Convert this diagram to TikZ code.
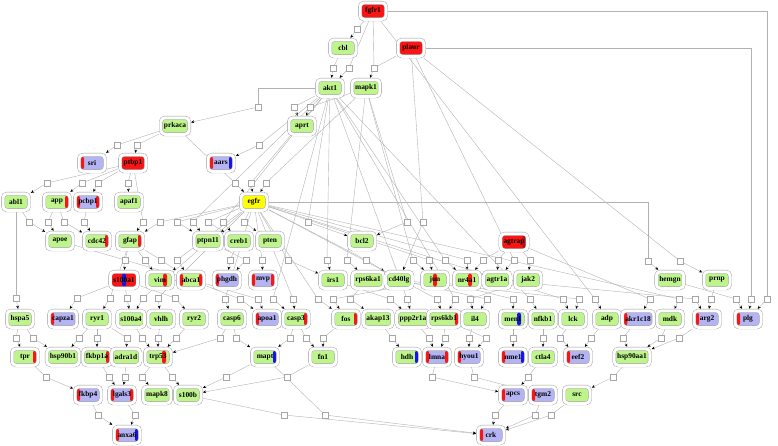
\documentclass[tikz,border=0pt]{standalone}
\usepackage{fontspec}
\setmainfont{Liberation Serif}
\usetikzlibrary{arrows.meta}
\definecolor{grn}{RGB}{190,244,140}
\definecolor{blu}{RGB}{180,180,245}
\definecolor{rd}{RGB}{250,20,20}
\definecolor{yel}{RGB}{255,255,0}
\definecolor{bl}{RGB}{20,20,235}
\pgfdeclarelayer{bg}
\pgfsetlayers{bg,main}

\begin{document}
\begin{tikzpicture}[x=1pt,y=-1pt,
  gene/.style={rounded corners=4pt, draw=gray!80, double=white, double distance=3pt,
    line width=0.4pt, minimum height=16.5pt, minimum width=26pt, inner xsep=3pt,
    inner ysep=2pt, outer sep=1.9pt, font=\bfseries\fontsize{7.4}{8}\selectfont},
  gn/.style={gene, fill=grn},
  bn/.style={gene, fill=blu},
  rn/.style={gene, fill=rd},
  yn/.style={gene, fill=yel},
  sideL/.style={path picture={\fill[#1] ([xshift=-1pt]path picture bounding box.south west) rectangle ([xshift=5pt]path picture bounding box.north west);}},
  sideR/.style={path picture={\fill[#1] ([xshift=-5pt]path picture bounding box.south east) rectangle ([xshift=1pt]path picture bounding box.north east);}},
  sides/.style 2 args={path picture={\fill[#1] ([xshift=-1pt]path picture bounding box.south west) rectangle ([xshift=5pt]path picture bounding box.north west);
    \fill[#2] ([xshift=-5pt]path picture bounding box.south east) rectangle ([xshift=1pt]path picture bounding box.north east);}},
  band/.style 2 args={path picture={\fill[#1] ([xshift=#2-2pt]path picture bounding box.south) rectangle ([xshift=#2+2pt]path picture bounding box.north);}},
  rxn/.style={draw=gray!70, fill=white, minimum size=6pt, inner sep=0pt, line width=0.4pt},
  link/.style={draw=gray!60, line width=0.4pt},
  hit/.style={link, -{Stealth[length=3.2pt,width=2.8pt,color=black]}}]
\useasboundingbox (0,0) rectangle (778,445);

% genes
\node[rn] (fgfr1) at (373,11) {fgfr1};
\node[gn] (cbl) at (343,48) {cbl};
\node[rn] (plaur) at (411,48) {plaur};
\node[gn] (akt1) at (330,88) {akt1};
\node[gn] (mapk1) at (366,88) {mapk1};
\node[gn] (prkaca) at (175,126) {prkaca};
\node[gn] (aprt) at (302,126) {aprt};
\node[bn,sideL=rd] (sri) at (92,163) {sri};
\node[rn] (ptbp1) at (133,163) {ptbp1};
\node[bn,sides={rd}{bl}] (aars) at (221,163) {aars};
\node[gn] (abl1) at (16,202) {abl1};
\node[gn,sideR=rd] (app) at (57,202) {app};
\node[bn,sides={rd}{rd}] (pcbp1) at (88,202) {pcbp1};
\node[gn] (apaf1) at (129,202) {apaf1};
\node[yn] (egfr) at (254,202) {egfr};

\node[gn] (apoe) at (60,241) {apoe};
\node[gn,sideR=rd] (cdc42) at (97,241) {cdc42};
\node[gn,sideR=rd] (gfap) at (130,241) {gfap};
\node[gn] (ptpn11) at (208,241) {ptpn11};
\node[gn] (creb1) at (239,241) {creb1};
\node[gn] (pten) at (270,241) {pten};
\node[gn] (bcl2) at (362,241) {bcl2};
\node[rn,sideR=rd!75!black] (agtrap) at (514,242) {agtrap};

\node[rn,band={bl}{0pt}] (s100a1) at (124,280) {s100a1};
\node[gn,band={rd}{5pt}] (vim) at (160,280) {vim};
\node[gn,sides={rd}{rd}] (abca1) at (191,280) {abca1};
\node[bn,sideL=rd] (phgdh) at (227,280) {phgdh};
\node[bn,sides={rd}{rd}] (mvp) at (263,280) {mvp};
\node[gn] (irs1) at (333,280) {irs1};
\node[gn] (rps6ka1) at (368,280) {rps6ka1};
\node[gn] (cd40lg) at (399,280) {cd40lg};
\node[gn,band={rd}{0pt}] (jun) at (435,280) {jun};
\node[gn,band={rd}{3pt}] (nr4a1) at (467,280) {nr4a1};
\node[gn] (agtr1a) at (497,280) {agtr1a};
\node[gn] (jak2) at (528,280) {jak2};
\node[gn] (hemgn) at (670,280) {hemgn};
\node[gn] (prnp) at (717,280) {prnp};

\node[gn] (hspa5) at (20,319) {hspa5};
\node[bn,sideL=rd] (capza1) at (63,319) {capza1};
\node[gn] (ryr1) at (97,319) {ryr1};
\node[gn] (s100a4) at (131,319) {s100a4};
\node[gn] (vhlh) at (161,319) {vhlh};
\node[gn] (ryr2) at (194,319) {ryr2};
\node[gn] (casp6) at (232,319) {casp6};
\node[bn,sideL=rd] (apoa1) at (267,319) {apoa1};
\node[gn,sideR=rd] (casp3) at (296,319) {casp3};
\node[gn,sideR=rd] (fos) at (346,319) {fos};
\node[gn] (akap13) at (378,319) {akap13};
\node[gn] (ppp2r1a) at (413,319) {ppp2r1a};
\node[gn,sideR=rd] (rps6kb1) at (444,319) {rps6kb1};
\node[gn] (il4) at (475,319) {il4};
\node[gn,band={bl}{6pt}] (men1) at (513,319) {men1};
\node[gn] (nfkb1) at (543,319) {nfkb1};
\node[gn] (lck) at (573,319) {lck};
\node[gn] (adp) at (607,319) {adp};
\node[bn,sideL=rd] (akr1c18) at (638,319) {akr1c18};
\node[gn] (mdk) at (670,319) {mdk};
\node[bn,sideL=rd] (arg2) at (707,319) {arg2};
\node[bn,sideL=rd] (plg) at (748,319) {plg};

\node[gn,sideR=rd] (tpr) at (25,357) {tpr};
\node[gn] (hsp90b1) at (63,357) {hsp90b1};
\node[gn,sideR=rd] (fkbp1a) at (97,357) {fkbp1a};
\node[gn] (adra1d) at (126,357) {adra1d};
\node[gn,band={rd}{6pt}] (trp53) at (158,357) {trp53};
\node[gn,sideR=bl] (mapt) at (265,357) {mapt};
\node[gn] (fn1) at (323,357) {fn1};
\node[gn,sideR=bl] (hdh) at (407,357) {hdh};
\node[bn,sides={rd}{rd}] (lmna) at (437,357) {lmna};
\node[bn,sideL=rd] (hyou1) at (469,357) {hyou1};
\node[bn,sides={rd}{bl}] (nme1) at (513,357) {nme1};
\node[gn] (ctla4) at (543,357) {ctla4};
\node[bn,sideL=rd] (eef2) at (578,357) {eef2};
\node[gn] (hsp90aa1) at (632,357) {hsp90aa1};

\node[bn,sideL=rd] (fkbp4) at (88,395) {fkbp4};
\node[bn,sides={rd}{rd}] (lgals3) at (122,395) {lgals3};
\node[gn] (mapk8) at (157,395) {mapk8};
\node[gn] (s100b) at (188,395) {s100b};
\node[bn,sideL=rd] (apcs) at (513,395) {apcs};
\node[bn,sideL=rd] (tgm2) at (543,395) {tgm2};
\node[gn] (src) at (577,395) {src};

\node[bn,sides={rd}{bl}] (anxa6) at (127,435) {anxa6};
\node[bn,sideL=rd] (crk) at (491,435) {crk};

% reaction squares
\foreach \n/\x/\y in {q1/357/29, q2/333/68, q3/349/68, q4/374/68, q5/258/107, q6/294/107, q7/310/107,
  q8/117/145, q9/137/145, q10/259/145, q11/47/183, q12/82/183, q13/98/183, q14/128/183,
  q15/235/183, q16/251/183, q17/266/183, q18/29/222, q19/48/222, q20/64/222, q21/84/222,
  q22/143/222, q23/160/222, q24/177/222, q25/193/222, q26/208/222, q27/223/222, q28/244/222,
  q29/308/222, q30/407/222, q31/423/222, q32/125/260, q33/145/260, q34/161/260, q35/177/260,
  q36/230/260, q37/246/260, q38/262/260, q39/288/260, q40/327/260, q41/347/260, q42/366/260,
  q43/413/260, q44/429/260, q45/445/260, q46/467/260, q47/483/260, q48/498/260, q49/514/260,
  q50/530/260, q51/648/261, q52/680/261, q53/16/298, q54/77/298, q55/110/298, q56/127/298,
  q57/143/298, q58/158/298, q59/175/298, q60/225/299, q61/240/299, q62/258/299, q63/273/299,
  q64/293/299, q65/318/299, q66/333/299, q67/350/299, q68/390/299, q69/407/299, q70/437/299,
  q71/455/299, q72/470/299, q73/487/299, q74/513/299, q75/530/299, q76/563/299, q77/579/299,
  q78/595/299, q79/650/299, q80/679/299, q81/695/299, q82/711/299, q83/736/299, q84/751/299,
  q85/767/299, q86/16/338, q87/33/338, q88/79/338, q89/97/338, q90/127/338, q91/142/338,
  q92/158/338, q93/176/338, q94/220/338, q95/236/338, q96/290/338, q97/306/338, q98/323/338,
  q99/392/338, q100/429/338, q101/445/338, q102/469/338, q103/486/338, q104/513/338,
  q105/543/338, q106/560/338, q107/591/338, q108/623/338, q109/661/338, q110/679/338,
  q111/46/377, q112/109/377, q113/125/377, q114/142/377, q115/172/377, q116/226/377,
  q117/287/377, q118/432/377, q119/474/377, q120/528/377, q121/613/377, q122/98/415,
  q123/135/415, q124/284/415, q125/325/415, q126/495/415, q127/535/415, q128/551/415}
  \node[rxn] (\n) at (\x,\y) {};

\begin{pgfonlayer}{bg}
% square -> product
\foreach \q/\t in {q1/cbl, q2/akt1, q3/akt1, q4/mapk1, q5/prkaca, q6/aprt, q7/aprt, q8/sri,
  q9/ptbp1, q10/aars, q11/abl1, q12/app, q13/pcbp1, q14/apaf1, q15/egfr, q16/egfr, q17/egfr,
  q18/apoe, q19/apoe, q20/cdc42, q21/cdc42, q22/gfap, q23/gfap, q24/ptpn11, q25/ptpn11,
  q26/creb1, q27/creb1, q28/pten, q29/bcl2, q30/bcl2, q31/cd40lg, q32/s100a1, q33/vim,
  q34/abca1, q35/abca1, q36/phgdh, q37/phgdh, q38/mvp, q39/irs1, q40/irs1, q41/rps6ka1,
  q42/cd40lg, q43/jun, q44/jun, q45/nr4a1, q46/nr4a1, q47/nr4a1, q48/agtr1a, q49/agtr1a,
  q50/jak2, q51/hemgn, q52/prnp, q53/hspa5, q54/capza1, q55/ryr1, q56/s100a4, q57/s100a4,
  q58/vhlh, q59/ryr2, q60/casp6, q61/apoa1, q62/apoa1, q63/casp3, q64/casp3, q65/fos,
  q66/fos, q67/akap13, q68/ppp2r1a, q69/ppp2r1a, q70/rps6kb1, q71/rps6kb1, q72/il4, q73/il4,
  q74/men1, q75/nfkb1, q76/lck, q77/lck, q78/adp, q79/akr1c18, q80/mdk, q81/arg2, q82/arg2,
  q83/plg, q84/plg, q85/plg, q86/tpr, q87/hsp90b1, q88/hsp90b1, q89/fkbp1a, q90/adra1d,
  q91/trp53, q92/trp53, q93/trp53, q94/trp53, q95/mapt, q96/mapt, q97/fn1, q98/fn1, q99/hdh,
  q100/lmna, q101/lmna, q102/hyou1, q103/hyou1, q104/nme1, q105/ctla4, q106/eef2, q107/eef2,
  q108/hsp90aa1, q109/hsp90aa1, q110/hsp90aa1, q111/fkbp4, q112/lgals3, q113/lgals3,
  q114/mapk8, q115/s100b, q116/s100b, q117/s100b, q118/apcs, q119/tgm2, q120/apcs, q121/src,
  q122/anxa6, q123/anxa6, q124/crk, q125/crk, q126/crk, q127/crk, q128/crk}
  \draw[hit] (\q) -- (\t);
% source -> square
\foreach \s/\q in {fgfr1/q1, cbl/q2, fgfr1/q3, fgfr1/q4, plaur/q4, akt1/q6, mapk1/q7,
  prkaca/q8, prkaca/q9, akt1/q10, ptbp1/q11, ptbp1/q12, ptbp1/q13, ptbp1/q14, prkaca/q15,
  akt1/q16, mapk1/q17, abl1/q18, app/q19, app/q20, pcbp1/q21, ptbp1/q22, egfr/q23, egfr/q24,
  akt1/q25, egfr/q26, akt1/q27, egfr/q28, akt1/q29, mapk1/q30, plaur/q31, gfap/q32, gfap/q33,
  gfap/q34, egfr/q35, creb1/q36, ptpn11/q37, egfr/q38, egfr/q39, akt1/q40, mapk1/q41,
  egfr/q42, mapk1/q43, egfr/q44, akt1/q45, egfr/q46, agtrap/q47, agtrap/q48, plaur/q49,
  agtrap/q50, plaur/q52, abl1/q53, s100a1/q54, gfap/q55, s100a1/q56, egfr/q57, egfr/q58,
  s100a1/q59, egfr/q60, abca1/q61, apoe/q62, akt1/q63, egfr/q64, egfr/q65, jun/q66,
  rps6ka1/q67, irs1/q68, akt1/q69, egfr/q70, akt1/q71, jak2/q72, cd40lg/q73, jun/q74,
  akt1/q75, egfr/q76, cd40lg/q77, fgfr1/q78, agtrap/q79, egfr/q80, agtr1a/q81, prnp/q82,
  hemgn/q83, hspa5/q86, hspa5/q87, ryr1/q88, ryr1/q89, ryr1/q90, s100a4/q91, vhlh/q92,
  ryr2/q93, casp6/q94, casp6/q95, casp3/q96, casp3/q97, fos/q98, akap13/q99, ppp2r1a/q100,
  rps6kb1/q101, il4/q102, rps6kb1/q103, men1/q104, nfkb1/q105, lck/q106, adp/q107,
  akr1c18/q108, mdk/q109, arg2/q110, tpr/q111, fkbp1a/q112, adra1d/q113, trp53/q114,
  trp53/q115, mapt/q116, fn1/q117, lmna/q118, hyou1/q119, ctla4/q120, hsp90aa1/q121,
  fkbp4/q122, lgals3/q123, s100b/q124, mapt/q125, apcs/q126, tgm2/q127, src/q128}
  \draw[link] (\s) -- (\q);
% long routed ones
\foreach \s/\q in {akt1/q5, egfr/q51, fgfr1/q85, plaur/q84}
  \draw[link] (\s) -| (\q);
\end{pgfonlayer}
\end{tikzpicture}
\end{document}
